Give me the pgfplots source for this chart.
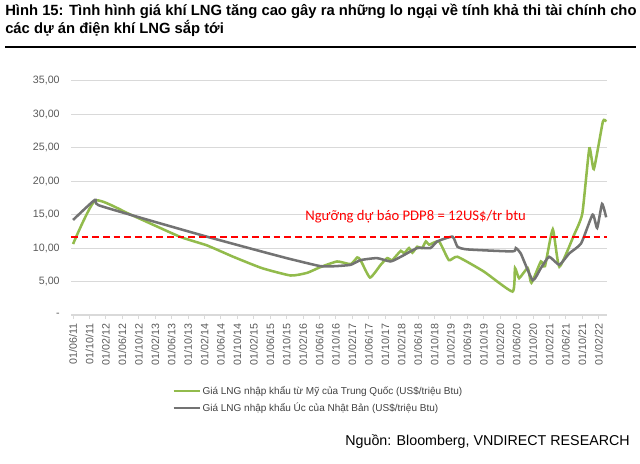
\documentclass[border=0pt]{standalone}
\usepackage{fontspec}
\setmainfont{Liberation Sans}
\newfontfamily\calibri{Carlito}
\usepackage{pgfplots}
\pgfplotsset{compat=1.18}
\definecolor{lngreen}{HTML}{92BB4C}
\definecolor{lngray}{HTML}{737373}
\definecolor{gridgray}{HTML}{D9D9D9}
\definecolor{ticktext}{HTML}{595959}
\definecolor{legtext}{HTML}{404040}
\begin{document}
\begin{tikzpicture}
\path[use as bounding box] (0,0) rectangle (480pt,-348pt);
\node[anchor=west, inner sep=0pt, font=\fontsize{11.1}{13}\selectfont\bfseries] at (3.75pt,-8.5pt)
  {Hình 15: Tình hình giá khí LNG tăng cao gây ra những lo ngại về tính khả thi tài chính cho};
\node[anchor=west, inner sep=0pt, font=\fontsize{11.1}{13}\selectfont\bfseries] at (3.75pt,-21.5pt)
  {các dự án điện khí LNG sắp tới};
\draw[line width=1.8pt] (3.75pt,-35.3pt) -- (477pt,-35.3pt);
\begin{axis}[
  at={(53.25pt,-236.25pt)}, anchor=south west,
  scale only axis, width=402pt, height=175.7pt,
  xmin=-0.5, xmax=130, ymin=0, ymax=35,
  axis x line*=bottom, axis y line*=left,
  x axis line style={gridgray, line width=0.8pt},
  y axis line style={draw=none},
  ymajorgrids, grid style={gridgray, line width=0.8pt},
  ytick={0,5,...,35},
  yticklabels={{-\hspace{6pt}},{5,00},{10,00},{15,00},{20,00},{25,00},{30,00},{35,00}},
  xtick={0,4,...,128},
  xticklabels={01/06/11,01/10/11,01/02/12,01/06/12,01/10/12,01/02/13,01/06/13,01/10/13,
    01/02/14,01/06/14,01/10/14,01/02/15,01/06/15,01/10/15,01/02/16,01/06/16,01/10/16,
    01/02/17,01/06/17,01/10/17,01/02/18,01/06/18,01/10/18,01/02/19,01/06/19,01/10/19,
    01/02/20,01/06/20,01/10/20,01/02/21,01/06/21,01/10/21,01/02/22},
  x tick label style={rotate=90, anchor=east, font=\fontsize{8}{9}\selectfont, text=ticktext},
  y tick label style={font=\fontsize{8}{9}\selectfont, text=ticktext, xshift=-2pt},
  x tick style={gridgray, line width=0.8pt},
  y tick style={draw=none},
  major tick length=3pt, tick align=outside,
  clip=false,
  legend style={at={(0.181,-0.286)}, anchor=north west, draw=none, fill=none,
    font=\fontsize{7.5}{9}\selectfont, text=legtext, row sep=3.5pt,
    nodes={inner sep=0.8pt}},
  legend cell align=left,
  legend image code/.code={\draw[#1] (0pt,0pt) -- (20pt,0pt);},
]
\addplot[lngreen, line width=1.9pt, smooth, tension=0.3] coordinates {
 (0,10.6) (5.4,17.1) (14,15.0) (26,11.7) (32.6,10.4) (39,8.7) (46,7.0) (53,5.9)
 (57,6.3) (60,7.1) (64.3,8.0) (67.6,7.6) (69.2,8.6) (70,8.2) (72.3,5.6) (74.9,7.5)
 (76.5,8.5) (77.7,8.2) (79.8,9.6) (80.6,9.2) (81.8,10.0) (82.6,9.3) (83.8,10.2)
 (85,10.0) (85.9,11.0) (86.7,10.5) (89.1,11.0) (91.5,8.2) (93.6,8.7) (100,6.5)
 (107,3.5) (107.6,7.0) (108.6,5.5) (110.7,7.0) (111.6,4.8) (113.9,8.0) (114.9,7.3)
 (116.8,12.8) (118.4,7.2) (122,12.0) (124,15.2) (125.7,24.9) (126.8,21.8)
 (129,28.9) (129.8,28.9)
};
\addlegendentry{Giá LNG nhập khẩu từ Mỹ của Trung Quốc (US\$/triệu Btu)}
\addplot[lngray, line width=1.9pt, smooth, tension=0.3] coordinates {
 (0,14.2) (5.3,17.2) (6.2,16.4) (20,13.9) (32.6,11.7) (44,9.8) (52,8.5) (60.2,7.3)
 (64,7.3) (67.6,7.5) (70,8.2) (74,8.5) (77.3,8.0) (79.8,8.7) (83.8,10.0) (87,10.0)
 (88.7,11.0) (92.4,11.7) (93.6,10.2) (96,9.8) (107,9.5) (107.8,10.0) (109,9.2)
 (111.9,5.2) (113.9,7.0) (115.9,8.7) (118.4,7.5) (120.8,9.2) (123.7,10.7)
 (126.5,15.0) (127.6,13.0) (128.8,16.6) (129.8,14.6)
};
\addlegendentry{Giá LNG nhập khẩu Úc của Nhật Bản (US\$/triệu Btu)}
\addplot[red, line width=1.5pt, dash pattern=on 5pt off 3pt, forget plot] coordinates {(-0.5,11.7) (130,11.7)};
\node[text=red, font=\calibri\fontsize{11}{13}\selectfont] at (axis cs:83.4,14.7)
  {Ngưỡng dự báo PDP8 = 12US\$/tr btu};
\end{axis}
\node[anchor=east, inner sep=0pt, font=\fontsize{10.7}{13}\selectfont] at (472.5pt,-331.3pt)
  {Nguồn: Bloomberg, VNDIRECT RESEARCH};
\end{tikzpicture}
\end{document}
